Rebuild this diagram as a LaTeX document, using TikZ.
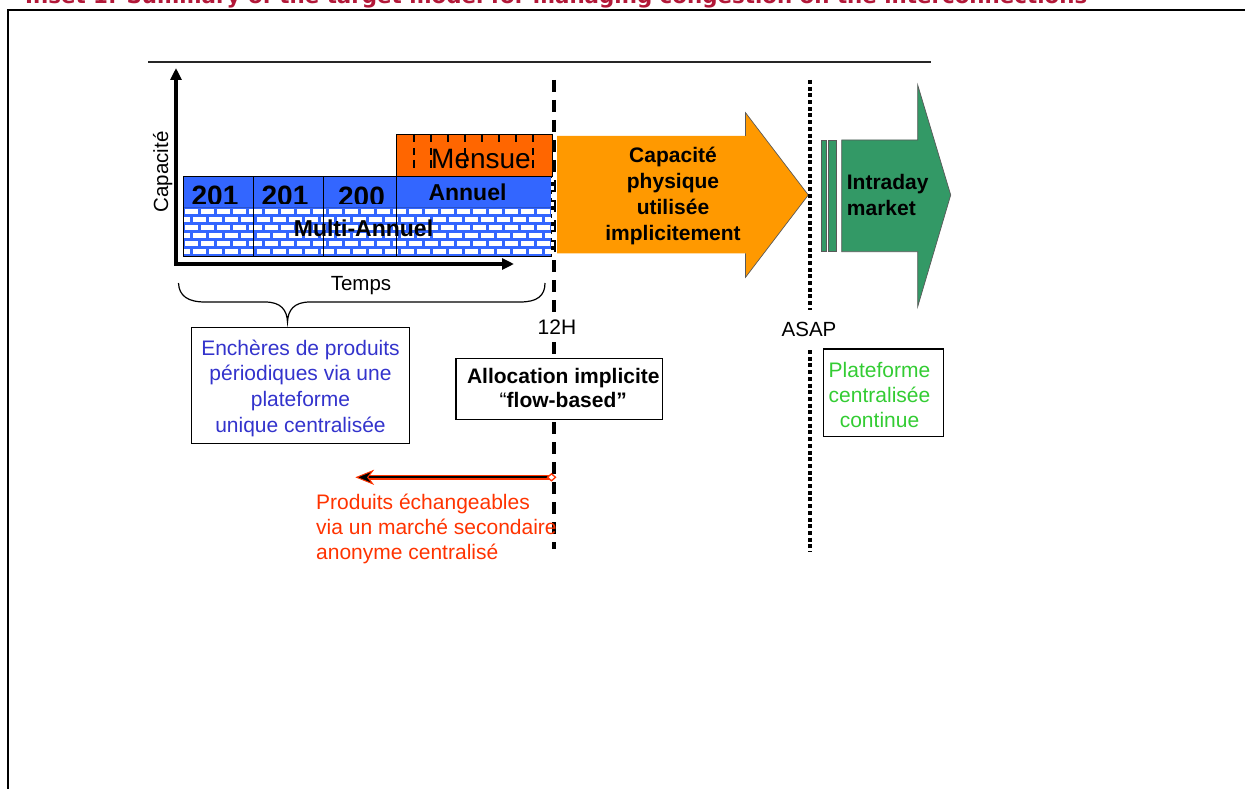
\documentclass[tikz,border=0pt]{standalone}
\usepackage{fontspec}
\usepackage{graphicx}
\setmainfont{Liberation Sans}
\newfontfamily\titlefont{DejaVu Sans}
\usetikzlibrary{arrows.meta}

\definecolor{titlered}{RGB}{178,24,56}
\definecolor{yearblue}{RGB}{51,102,255}
\definecolor{mensorange}{RGB}{255,102,0}
\definecolor{arroworange}{RGB}{255,153,0}
\definecolor{intragreen}{RGB}{51,153,102}
\definecolor{auctionblue}{RGB}{51,51,204}
\definecolor{tradered}{RGB}{255,51,0}
\definecolor{platgreen}{RGB}{51,204,51}

\tikzset{
  lbl/.style={inner sep=0, font=\fontsize{21}{25.7}\selectfont},
  boldlbl/.style={inner sep=0, font=\fontsize{21}{25.7}\selectfont\bfseries},
  yearlbl/.style={inner sep=0, anchor=base, font=\fontsize{28}{30}\selectfont\bfseries},
  textbox/.style={draw, line width=1.3, inner sep=0},
  axisline/.style={line width=3.5, -{Triangle[length=12pt,width=11pt]}},
  cutline/.style={line width=4, dash pattern=on 12pt off 8pt},
  asapline/.style={line width=4, dash pattern=on 4pt off 2.7pt},
  bigarrow/.style={draw=black!65, line width=0.7},
}

\begin{document}
\begin{tikzpicture}[x=1pt,y=-1pt]
\useasboundingbox (0,0) rectangle (1245,789);
\clip (0,0) rectangle (1245,789);

% heading, cut by the top edge
\node[anchor=base west, inner sep=0, text=titlered] (title) at (25,4)
  {\resizebox{1062pt}{!}{\titlefont\bfseries\fontsize{20}{24}\selectfont Inset 1: Summary of the target model for managing congestion on the interconnections}};

% outer frame
\draw[line width=2] (8,800) -- (8,10) -- (1250,10);
% upper rule
\draw[line width=1.5, black!85] (148,62) -- (931,62);

% ---- capacity blocks ----
% multi-year band with brick pattern
\begin{scope}
  \clip (183,207) rectangle (551,256);
  \fill[yearblue] (183,207) rectangle (551,256);
  \foreach \r in {0,...,5} {
    \pgfmathsetmacro\off{mod(\r,2)*8}
    \foreach \c in {-1,...,23} {
      \fill[white] ({183+\off+16*\c+1.5},{207+8*\r+1.5}) rectangle ++(13,5);
    }
  }
\end{scope}
% yearly band
\fill[yearblue] (183,176) rectangle (551,207);
\begin{scope}
  \clip (183,176) rectangle (551,203);
  \node[yearlbl] (y1) at (215,205.5) {201};
  \node[yearlbl] (y2) at (285,205.5) {201};
  \node[yearlbl] (y3) at (361.5,206.5) {200};
\end{scope}
\draw[yearblue!80!black, line width=0.8] (183,207) -- (551,207);
\draw[line width=0.9] (183,176) rectangle (551,256);
\foreach \xd in {253,323.5,396.5} \draw[line width=0.9] (\xd,176) -- (\xd,256);
\node[boldlbl, anchor=base, font=\fontsize{23}{26}\selectfont\bfseries] (annuel) at (467.5,200.5) {Annuel};
\node[boldlbl, anchor=base, font=\fontsize{23}{26}\selectfont\bfseries] (multi) at (363.5,236) {Multi-Annuel};

% monthly band
\fill[mensorange] (396.5,134) rectangle (552,176);
\foreach \i in {0,...,7} \draw[line width=1.2] ({414+17*\i},134) -- ({414+17*\i},142);
\foreach \xd in {414,431,465,533} {
  \draw[line width=1.2] (\xd,148) -- (\xd,155);
  \draw[line width=1.2] (\xd,160) -- (\xd,168);
}
\draw[line width=0.9] (396.5,134) rectangle (552,176);
\node[inner sep=0, anchor=base, font=\fontsize{28}{30}\selectfont] (mensue) at (481,168.3) {Mensue};

% axes
\coordinate (origin) at (176,264);
\coordinate (ytop) at (176,68);
\coordinate (xend) at (514,264);
\draw[axisline] ([yshift=-1.75]origin) -- (ytop);
\draw[axisline] ([xshift=-1.75]origin) -- (xend);
\node[lbl, rotate=90, anchor=base, font=\fontsize{20.5}{24}\selectfont] (capacite) at (168,172) {Capacité};
\node[lbl, anchor=base, font=\fontsize{20.5}{24}\selectfont] (temps) at (361,290) {Temps};

% brace under the time axis
\draw[line width=1.2] (178.5,283) .. controls (179,296) and (188,302) .. (205,302)
  -- (265,302) .. controls (281,302) and (287,310) .. (287.5,322)
  .. controls (288,310) and (294,302) .. (310,302)
  -- (520,302) .. controls (537,302) and (545,296) .. (545,283);

% ---- day-ahead cut-off at 12H ----
\coordinate (cutA) at (553.5,80);
\coordinate (cutB) at (553.5,312);
\coordinate (cutC) at (553.5,342);
\coordinate (cutD) at (553.5,549);
\draw[cutline] (cutA) -- (cutB);
\draw[cutline] (cutC) -- (cutD);
\draw[white, line width=2.5, dash pattern=on 4pt off 4pt] (552.5,178) -- (552.5,254);
\node[lbl, anchor=base] (h12) at (557,334) {12H};

% implicit capacity arrow
\fill[arroworange] (557,136) -- (745.5,136) -- (745.5,112.7) -- (808.3,195)
  -- (745.5,277.3) -- (745.5,253.3) -- (557,253.3) -- cycle;
\draw[bigarrow] (745.5,136) -- (745.5,112.7) -- (808.3,195) -- (745.5,277.3) -- (745.5,253.3);
% (the base anchor of a multi-line node sits on its last line)
\node[boldlbl, align=center, anchor=base] (implicit) at (673,240)
  {Capacité\\physique\\utilisée\\implicitement};

% ---- intraday cut-off ASAP ----
\coordinate (asapA) at (810,80);
\coordinate (asapB) at (810,310);
\coordinate (asapC) at (810,350);
\coordinate (asapD) at (810,552);
\draw[asapline] (asapA) -- (asapB);
\draw[asapline] (asapC) -- (asapD);
\node[lbl, anchor=base, font=\fontsize{20.5}{24}\selectfont] (asap) at (809,336) {ASAP};

% intraday arrow
\filldraw[fill=intragreen, bigarrow] (821.7,140) rectangle (826,251.7);
\filldraw[fill=intragreen, bigarrow] (828.7,140) rectangle (836.7,251.7);
\filldraw[fill=intragreen, bigarrow] (841.7,140) -- (917.7,140) -- (917.7,85) -- (950.7,195)
  -- (917.7,306.7) -- (917.7,251.7) -- (841.7,251.7) -- cycle;
\node[boldlbl, align=left, anchor=base west] (intraday) at (846.7,215) {Intraday\\market};

% ---- explanation boxes ----
\node[textbox, minimum width=217.6, minimum height=116] (auction) at (300.5,385.3) {};
\node[lbl, align=center, anchor=base, text=auctionblue] (auctiontext) at (300.5,432.3)
  {Enchères de produits\\périodiques via une\\plateforme\\unique centralisée};

\node[textbox, minimum width=206.7, minimum height=61, fill=white] (alloc) at (559.3,388.8) {};
\node[boldlbl, align=center, anchor=base, font=\fontsize{21}{24}\selectfont\bfseries] (alloctext) at (563.3,407.3)
  {Allocation implicite\\{\mdseries “}flow-based”};

\node[textbox, minimum width=120, minimum height=87.7] (platform) at (883.3,392.8) {};
\node[lbl, align=center, anchor=base, text=platgreen, font=\fontsize{21}{25}\selectfont] (platformtext) at (879.5,427.3)
  {Plateforme\\centralisée\\continue};

% ---- secondary market ----
\coordinate (tradeR) at (551.5,477.3);
\coordinate (tradeL) at (356.7,477.3);
\draw[tradered, line width=4.6] (tradeR) -- ([xshift=10]tradeL);
\draw[black, line width=2.2] (tradeR) -- ([xshift=10]tradeL);
\filldraw[fill=black, draw=tradered, line width=1, line join=miter]
  (tradeL) -- ++(16,-6.5) -- ++(-5,6.5) -- ++(5,6.5) -- cycle;
\filldraw[fill=white, draw=tradered, line width=1.3]
  ([xshift=-4]tradeR) -- ++(4,-3.5) -- ++(4,3.5) -- ++(-4,3.5) -- cycle;
\node[lbl, align=left, anchor=base west, text=tradered, font=\fontsize{21}{24.7}\selectfont] (trade) at (316,559.3)
  {Produits échangeables\\via un marché secondaire\\anonyme centralisé};
\end{tikzpicture}
\end{document}
